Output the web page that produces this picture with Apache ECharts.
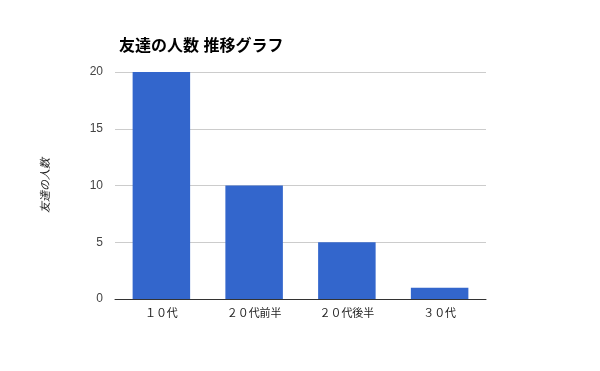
<!DOCTYPE html>
<html><head><meta charset="utf-8">
<script src="https://cdn.jsdelivr.net/npm/echarts@6/dist/echarts.min.js"></script>
<style>html,body{margin:0;padding:0;background:#fff}#c{width:600px;height:371px}</style>
</head><body><div id="c"></div>
<script>
const categories = ["１０代", "２０代前半", "２０代後半", "３０代"];
const values = [20, 10, 5, 1];
const yTicks = [0, 5, 10, 15, 20];
const font = "Arial, 'Liberation Sans', 'Noto Sans CJK JP', sans-serif";
const chart = echarts.init(document.getElementById('c'));
chart.setOption({
  animation: false,
  title: {
    text: "友達の人数 推移グラフ", left: 114, top: 34,
    textStyle: {fontSize: 16, fontWeight: 'bold', color: '#000', fontFamily: font}
  },
  grid: {left: 115, right: 114, top: 72, bottom: 72},
  xAxis: {
    type: 'category', data: categories,
    axisLine: {lineStyle: {color: '#333', width: 1}},
    axisTick: {show: false},
    axisLabel: {color: '#222', fontSize: 11, margin: 9, fontFamily: font}
  },
  yAxis: {
    type: 'value', min: yTicks[0], max: yTicks[yTicks.length - 1], interval: 5,
    name: "友達の人数", nameLocation: 'middle', nameGap: 64, nameRotate: 90,
    nameTextStyle: {fontStyle: 'italic', fontSize: 11, color: '#222', fontFamily: font},
    axisLine: {show: false}, axisTick: {show: false},
    axisLabel: {color: '#444', fontSize: 12, margin: 12, fontFamily: font},
    splitLine: {lineStyle: {color: '#ccc'}}
  },
  series: [{
    type: 'bar', data: values, barCategoryGap: '38%',
    itemStyle: {color: '#3366cc'}
  }]
});
</script></body></html>
